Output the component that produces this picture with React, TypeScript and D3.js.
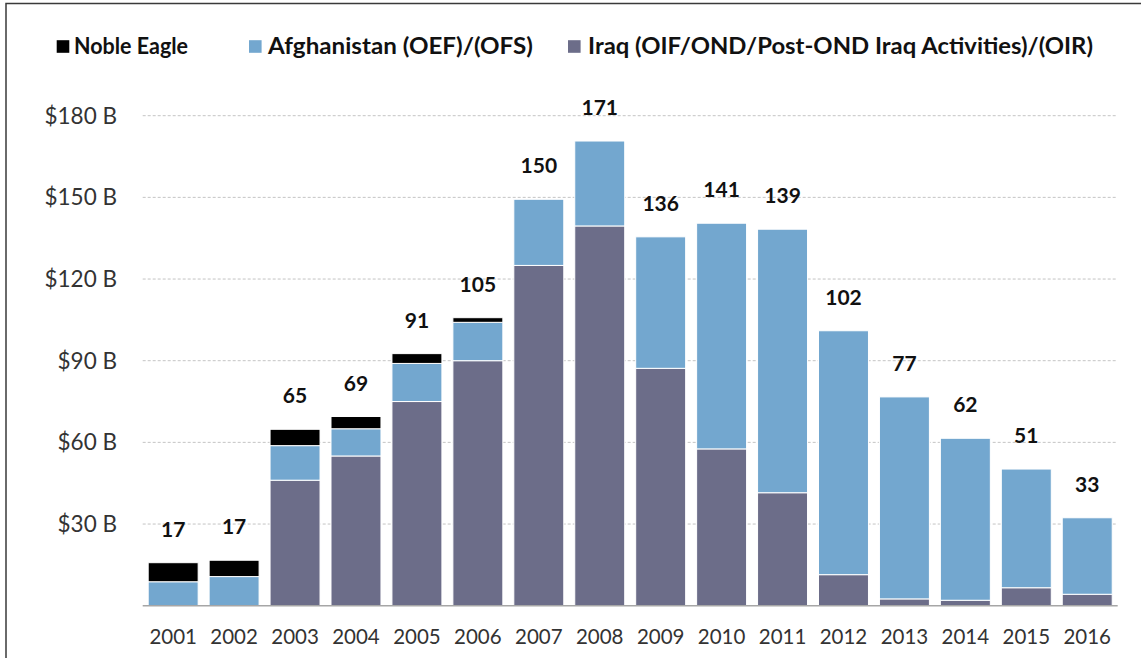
import React from "react";
import * as d3 from "d3";

const years = ["2001","2002","2003","2004","2005","2006","2007","2008","2009","2010","2011","2012","2013","2014","2015","2016"];
const iraq = [0, 0, 46.1, 55, 75, 90, 125, 139.5, 87.2, 57.6, 41.5, 11.4, 2.5, 2, 6.6, 4.2];
const afghanistan = [8.8, 10.7, 12.7, 10, 14, 14.1, 24.3, 31.2, 48.3, 82.9, 96.8, 89.6, 74.2, 59.5, 43.6, 28.1];
const nobleEagle = [7, 6, 6, 4.5, 3.6, 1.7, 0, 0, 0, 0, 0, 0, 0, 0, 0, 0];
const totalLabels = ["17","17","65","69","91","105","150","171","136","141","139","102","77","62","51","33"];
const yTicks = [30, 60, 90, 120, 150, 180];

const seriesNames = ["Noble Eagle", "Afghanistan (OEF)/(OFS)", "Iraq (OIF/OND/Post-OND Iraq Activities)/(OIR)"];
const colors: Record<string, string> = {
  iraq: "#6C6D89",
  afghanistan: "#73A7CF",
  nobleEagle: "#000000",
};

const W = 1141;
const H = 658;
const FONT = "Lato, 'Open Sans', sans-serif";

export default function App() {
  const x = d3.scaleBand<string>().domain(years).range([142.7, 1117.7]).paddingInner(0.18).paddingOuter(0.09);
  const y = d3.scaleLinear().domain([0, 180]).range([605.7, 115.7]);

  const rows = years.map((yr, i) => ({ year: yr, iraq: iraq[i], afghanistan: afghanistan[i], nobleEagle: nobleEagle[i] }));
  const keys = ["iraq", "afghanistan", "nobleEagle"];
  const stack = d3.stack<any>().keys(keys);
  const layers = stack(rows);

  const legendItems = [
    { key: "nobleEagle", name: seriesNames[0], sx: 56.7, tx: 74, w: 114 },
    { key: "afghanistan", name: seriesNames[1], sx: 249, tx: 268, w: 265 },
    { key: "iraq", name: seriesNames[2], sx: 568, tx: 588, w: 505 },
  ];

  return (
    <svg width={W} height={H} style={{ position: "absolute", left: 0, top: 0 }} fontFamily={FONT}>
      <rect x={0} y={0} width={W} height={H} fill="#fff" />
      <rect x={6} y={3.5} width={W + 20} height={H + 20} fill="none" stroke="#3a3a3a" strokeWidth={1.5} />

      {legendItems.map((it) => (
        <g key={it.key}>
          <rect x={it.sx} y={40.2} width={12.6} height={12.6} fill={colors[it.key]} />
          <text x={it.tx} y={54.3} fontSize={22} fontWeight="bold" fill="#111" textLength={it.w} lengthAdjust="spacingAndGlyphs">{it.name}</text>
        </g>
      ))}

      {yTicks.map((t) => (
        <g key={t}>
          <line x1={142.7} x2={1117.7} y1={y(t)} y2={y(t)} stroke="#c4c4c4" strokeWidth={1} strokeDasharray="3,2" />
          <text x={117} y={y(t) + 7.8} textAnchor="end" fontSize={22.5} fill="#333">{`$${t} B`}</text>
        </g>
      ))}

      {layers.map((layer) => (
        <g key={layer.key} fill={colors[layer.key]}>
          {layer.map((d, i) =>
            d[1] - d[0] > 0 ? (
              <rect
                key={i}
                x={x(years[i])!}
                y={y(d[1])}
                width={x.bandwidth()}
                height={y(d[0]) - y(d[1])}
                stroke="#ffffff"
                strokeWidth={1}
              />
            ) : null
          )}
        </g>
      ))}

      <line x1={142.7} x2={1117.7} y1={y(0)} y2={y(0)} stroke="#a6a6a6" strokeWidth={1.5} />

      {years.map((yr, i) => {
        const top = iraq[i] + afghanistan[i] + nobleEagle[i];
        return (
          <text key={yr} x={x(yr)! + x.bandwidth() / 2} y={y(top) - 26} textAnchor="middle" fontSize={21} fontWeight="bold" fill="#111">
            {totalLabels[i]}
          </text>
        );
      })}

      {years.map((yr) => (
        <text key={yr} x={x(yr)! + x.bandwidth() / 2} y={643.5} textAnchor="middle" fontSize={20.5} fill="#333">
          {yr}
        </text>
      ))}
    </svg>
  );
}
